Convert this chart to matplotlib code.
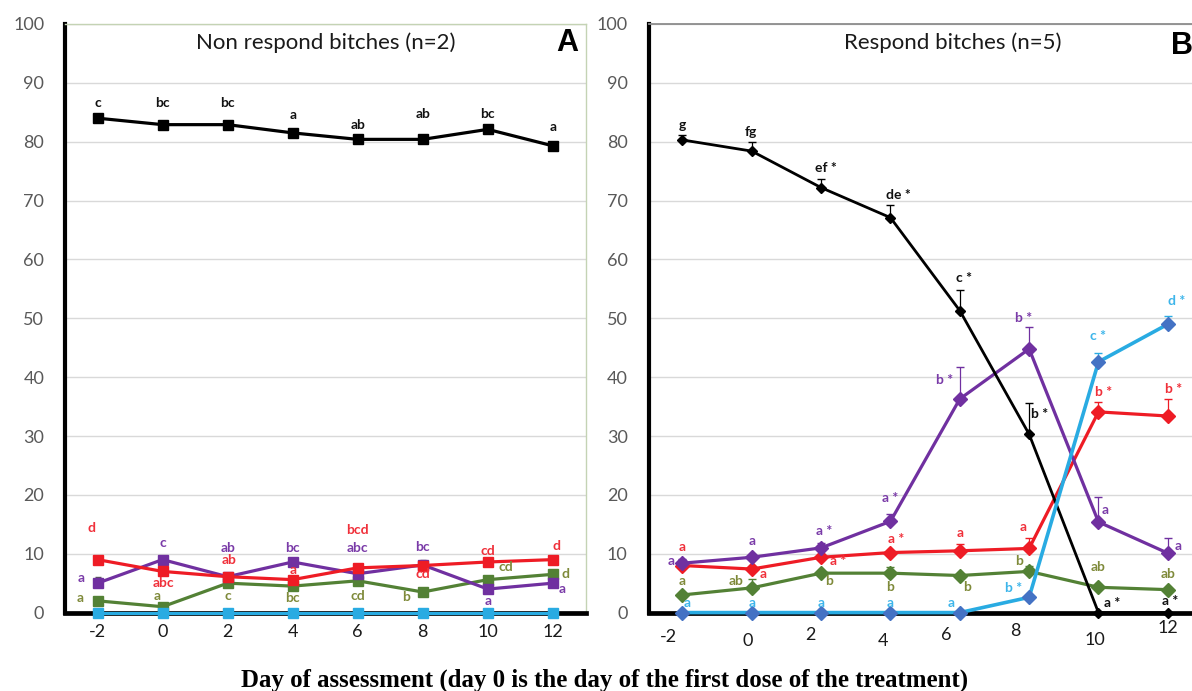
import matplotlib
matplotlib.use("Agg")
import matplotlib.pyplot as plt

plt.rcParams['font.family'] = ['Lato', 'DejaVu Sans']

# ---------------- data ----------------
days = ["-2", "0", "2", "4", "6", "8", "10", "12"]

# Panel A : non respond bitches (n=2)
A_black = [84.0, 82.9, 82.9, 81.5, 80.4, 80.4, 82.1, 79.3]
A_red = [9.0, 7.0, 6.1, 5.6, 7.6, 8.0, 8.6, 9.0]
A_purple = [5.0, 9.0, 6.1, 8.6, 6.6, 8.1, 4.0, 5.0]
A_green = [2.0, 1.0, 5.0, 4.5, 5.4, 3.5, 5.6, 6.5]
A_cyan = [0.0, 0.0, 0.0, 0.0, 0.0, 0.0, 0.0, 0.0]
A_purple_err = [1.0, 0.0, 0.0, 0.0, 0.0, 0.9, 0.0, 0.0]

A_black_lab = ["c", "bc", "bc", "a", "ab", "ab", "bc", "a"]
A_red_lab = ["d", "abc", "ab", "a", "bcd", "cd", "cd", "d"]
A_purple_lab = ["a", "c", "ab", "bc", "abc", "bc", "a", "a"]
A_green_lab = ["a", "a", "c", "bc", "cd", "b", "cd", "d"]

# Panel B : respond bitches (n=5)
B_black = [80.3, 78.4, 72.2, 67.1, 51.3, 30.3, 0.0, 0.0]
B_purple = [8.4, 9.4, 11.0, 15.5, 36.3, 44.8, 15.4, 10.1]
B_red = [8.0, 7.4, 9.4, 10.2, 10.5, 10.9, 34.1, 33.4]
B_green = [3.0, 4.2, 6.7, 6.7, 6.3, 7.0, 4.3, 3.9]
B_cyan = [0.0, 0.0, 0.0, 0.0, 0.0, 2.6, 42.6, 49.0]

B_black_err = [0.9, 1.5, 1.4, 2.1, 3.5, 5.3, 0.0, 0.0]
B_purple_err = [0.7, 0.0, 0.9, 1.3, 5.4, 3.8, 4.3, 2.6]
B_red_err = [0.0, 0.0, 0.0, 0.0, 1.1, 1.8, 1.7, 2.9]
B_green_err = [0.0, 1.5, 0.0, 1.1, 0.0, 0.9, 0.0, 0.0]
B_cyan_err = [0.0, 0.0, 0.0, 0.0, 0.0, 0.0, 1.5, 1.4]

B_black_lab = ["g", "fg", "ef *", "de *", "c *", "b *", "a *", "a *"]
B_purple_lab = ["a", "a", "a *", "a *", "b *", "b *", "a", "a"]
B_red_lab = ["a", "a", "a *", "a *", "a", "a", "b *", "b *"]
B_green_lab = ["a", "ab", "b", "b", "b", "b", "ab", "ab"]
B_cyan_lab = ["a", "a", "a", "a", "a", "b *", "c *", "d *"]

# ---------------- label placement (dx in category units, y in value units) ----------------
A_black_pos = [(0, 86.5), (0, 86.5), (0, 86.5), (0, 84.5), (0, 82.9), (0, 84.7), (0, 84.7), (0, 82.5)]
A_red_pos = [(-0.1, 14.3), (0.02, 5.1), (0.02, 9.0), (0, 7.3), (0, 14.1), (0, 6.5), (0, 10.5), (0.05, 11.3)]
A_purple_pos = [(-0.25, 5.8), (0, 11.8), (0, 11.0), (0, 11.0), (0, 10.9), (0, 11.1), (0, 1.9), (0.15, 4.0)]
A_green_pos = [(-0.26, 2.5), (-0.08, 2.9), (0, 2.9), (0, 2.5), (0, 2.9), (-0.26, 2.7), (0.28, 7.7), (0.19, 6.6)]

B_black_pos = [(0, 82.8), (-0.02, 81.7), (0.07, 75.6), (0.11, 70.9), (0.06, 56.8), (0.15, 33.8), (0.2, 1.7), (0.03, 2.0)]
B_purple_pos = [(-0.17, 8.8), (0, 12.2), (0.05, 13.8), (0, 19.5), (-0.22, 39.5), (-0.08, 50.1), (0.09, 17.5), (0.15, 11.3)]
B_red_pos = [(0, 11.2), (0.17, 6.5), (0.24, 8.8), (0.08, 12.5), (0, 13.5), (-0.08, 14.5), (0.07, 37.5), (0.08, 38.0)]
B_green_pos = [(0, 5.3), (-0.22, 5.4), (0.11, 5.4), (0, 4.3), (0.1, 4.3), (-0.15, 8.8), (0, 7.8), (0, 6.6)]
B_cyan_pos = [(0.06, 1.7), (0, 1.7), (0, 1.7), (0, 1.7), (-0.13, 1.7), (-0.22, 4.2), (0, 47.0), (0.13, 53.0)]

# B x tick labels: pixel offsets (dx, dy below axis)
B_tick_off = [(-14, 24), (-4, 28), (-11, 22), (-7, 28), (-14, 22), (-14, 18), (-4, 27), (0, 15)]

# ---------------- styles ----------------
C_BLACK = "#000000"
C_RED = "#EE1C25"
C_PURPLE = "#7030A0"
C_GREEN = "#538135"
C_CYAN = "#29ABE2"
C_BLUE = "#4472C4"
L_RED = "#F0303A"
L_PURPLE = "#7A3BA8"
L_GREEN = "#7F8A3A"
L_CYAN = "#3DB5EA"
TICK_GRAY = "#595959"

W, H = 1192, 691
fig = plt.figure(figsize=(W / 100, H / 100), dpi=100)


def fx(px):
    return px / W


def fy(py):
    return (H - py) / H


y_top, y_bot = 24.0, 612.6
axA = fig.add_axes([fx(65), fy(y_bot), fx(586) - fx(65), fy(y_top) - fy(y_bot)])
axB = fig.add_axes([fx(648.5), fy(y_bot), fx(1209.4) - fx(648.5), fy(y_top) - fy(y_bot)])

xs = list(range(len(days)))


def style_axes(ax, frame_color, frame_lw):
    ax.set_ylim(0, 100)
    ax.set_yticks(range(0, 101, 10))
    ax.yaxis.grid(True, color="#D9D9D9", lw=1.0)
    ax.set_axisbelow(True)
    ax.tick_params(axis="y", length=0, pad=15, labelsize=13, labelcolor=TICK_GRAY)
    ax.tick_params(axis="x", length=0, pad=8, labelsize=13, labelcolor="#1a1a1a")
    ax.spines["left"].set_linewidth(3.0)
    ax.spines["left"].set_color("black")
    ax.spines["bottom"].set_linewidth(3.4)
    ax.spines["bottom"].set_color("black")
    ax.spines["top"].set_color(frame_color)
    ax.spines["top"].set_linewidth(frame_lw)
    ax.spines["right"].set_color(frame_color)
    ax.spines["right"].set_linewidth(frame_lw)


def put_labels(ax, labels, pos, color, size=10):
    for i, (t, (dx, y)) in enumerate(zip(labels, pos)):
        ax.text(i + dx, y, t, color=color, ha="center", va="center", fontsize=size,
                fontweight="bold", zorder=6)


# ---------------- Panel A ----------------
style_axes(axA, "#C4D3B4", 1.0)
axA.set_xlim(-0.5, 7.51)
axA.set_xticks(xs)
axA.set_xticklabels(days)

axA.errorbar(xs, A_purple, yerr=[[0] * 8, A_purple_err], fmt="none", ecolor="#555555",
             elinewidth=0.8, capsize=2.5, zorder=3)
for vals, col in [(A_black, C_BLACK), (A_green, C_GREEN), (A_purple, C_PURPLE),
                  (A_red, C_RED), (A_cyan, C_CYAN)]:
    axA.plot(xs, vals, color=col, lw=2.3, marker="s", ms=7.5, mfc=col, mec=col,
             clip_on=False, zorder=4)

put_labels(axA, A_black_lab, A_black_pos, "#111111")
put_labels(axA, A_red_lab, A_red_pos, L_RED)
put_labels(axA, A_purple_lab, A_purple_pos, L_PURPLE)
put_labels(axA, A_green_lab, A_green_pos, L_GREEN)

fig.text(fx(326), fy(43), "Non respond bitches (n=2)", fontsize=16,
         ha="center", va="center", color="#1a1a1a")
fig.text(fx(567), fy(43), "A", fontsize=22, fontweight="bold", ha="center", va="center",
         family="Liberation Sans")

# ---------------- Panel B ----------------
style_axes(axB, "#8C8C8C", 1.3)
axB.spines["right"].set_visible(False)
axB.set_xlim(-0.49, 7.6)
axB.set_xticks(xs)
axB.set_xticklabels([])

for vals, err, col in [(B_black, B_black_err, C_BLACK), (B_purple, B_purple_err, C_PURPLE),
                       (B_red, B_red_err, C_RED), (B_green, B_green_err, C_GREEN),
                       (B_cyan, B_cyan_err, C_CYAN)]:
    axB.errorbar(xs, vals, yerr=[[0] * 8, err], fmt="none", ecolor=col,
                 elinewidth=0.9, capsize=3, zorder=3)

axB.plot(xs, B_green, color=C_GREEN, lw=2.3, marker="D", ms=7.5, clip_on=False, zorder=4)
axB.plot(xs, B_red, color=C_RED, lw=2.3, marker="D", ms=7.5, clip_on=False, zorder=4)
axB.plot(xs, B_purple, color=C_PURPLE, lw=2.3, marker="D", ms=7.5, clip_on=False, zorder=4)
axB.plot(xs, B_black, color=C_BLACK, lw=2.0, marker="D", ms=5.5, clip_on=False, zorder=5)
axB.plot(xs, B_cyan, color=C_CYAN, lw=2.6, clip_on=False, zorder=5)
axB.plot(xs, B_cyan, ls="none", marker="D", ms=7.5, mfc=C_BLUE, mec=C_BLUE, clip_on=False, zorder=5)

put_labels(axB, B_black_lab, B_black_pos, "#111111")
put_labels(axB, B_purple_lab, B_purple_pos, L_PURPLE)
put_labels(axB, B_red_lab, B_red_pos, L_RED)
put_labels(axB, B_green_lab, B_green_pos, L_GREEN)
put_labels(axB, B_cyan_lab, B_cyan_pos, L_CYAN)

# staggered x tick labels of panel B
for i, (lab, (dx, dy)) in enumerate(zip(days, B_tick_off)):
    xpix = axB.transData.transform((i, 0))[0] + dx
    fig.text(xpix / W, fy(y_bot + dy), lab, fontsize=13, ha="center", va="center",
             color="#1a1a1a")

fig.text(fx(953), fy(43), "Respond bitches (n=5)", fontsize=16, ha="center", va="center",
         color="#1a1a1a")
fig.text(fx(1182), fy(46), "B", fontsize=22, fontweight="bold", ha="center", va="center",
         family="Liberation Sans")

# ---------------- common x label ----------------
fig.text(fx(605), fy(680), "Day of assessment (day 0 is the day of the first dose of the treatment)",
         fontsize=17.9, fontweight="bold", ha="center", va="center", family="Liberation Serif")

fig.savefig("out.png", dpi=100)
